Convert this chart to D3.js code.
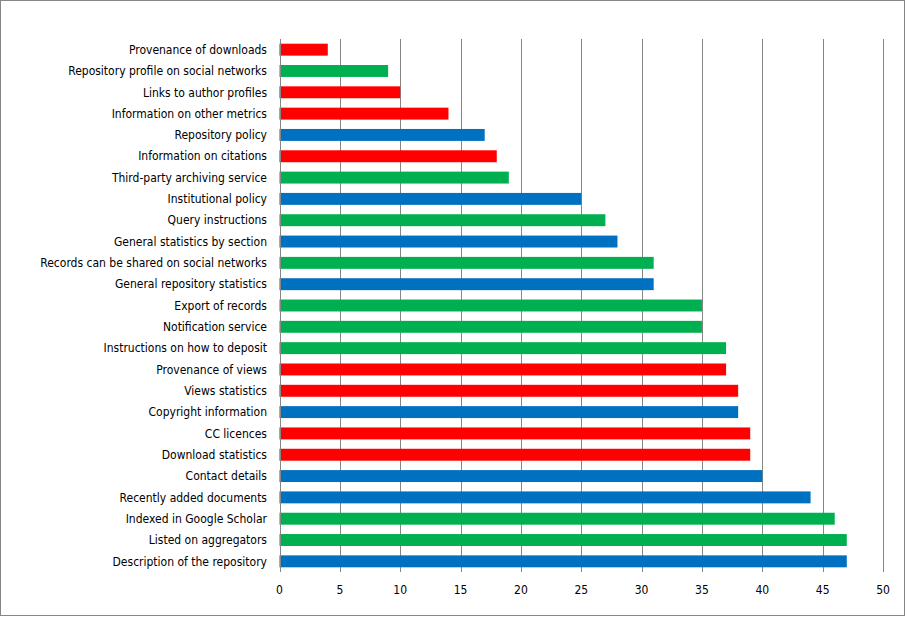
<!DOCTYPE html>
<html>
<head>
<meta charset="utf-8">
<script src="https://cdn.jsdelivr.net/npm/d3@7"></script>
<style>
  body { margin: 0; background: #fff; }
  svg { display: block; }
  .lbl { font-family: "DejaVu Sans Condensed", "DejaVu Sans", sans-serif; font-size: 12px; fill: #000; }
</style>
</head>
<body>
<svg id="chart"></svg>
<script>
// rows listed top to bottom as they appear in the chart
const features = [
  "Provenance of downloads",
  "Repository profile on social networks",
  "Links to author profiles",
  "Information on other metrics",
  "Repository policy",
  "Information on citations",
  "Third-party archiving service",
  "Institutional policy",
  "Query instructions",
  "General statistics by section",
  "Records can be shared on social networks",
  "General repository statistics",
  "Export of records",
  "Notification service",
  "Instructions on how to deposit",
  "Provenance of views",
  "Views statistics",
  "Copyright information",
  "CC licences",
  "Download statistics",
  "Contact details",
  "Recently added documents",
  "Indexed in Google Scholar",
  "Listed on aggregators",
  "Description of the repository"
];
const counts = [4, 9, 10, 14, 17, 18, 19, 25, 27, 28, 31, 31, 35, 35, 37, 37, 38, 38, 39, 39, 40, 44, 46, 47, 47];
const groups = ["r", "g", "r", "r", "b", "r", "g", "b", "g", "b", "g", "b", "g", "g", "g", "r", "r", "b", "r", "r", "b", "b", "g", "g", "b"];
const xTicks = [0, 5, 10, 15, 20, 25, 30, 35, 40, 45, 50];

const groupColor = { r: "#ff0000", g: "#00b050", b: "#0070c0" };

const W = 909, H = 621;
const margin = { top: 39, right: 26, bottom: 49, left: 279.5 };

const svg = d3.select("#chart").attr("width", W).attr("height", H);

// outer chart border
svg.append("rect")
  .attr("x", 0.5).attr("y", 0.5)
  .attr("width", 904).attr("height", 615)
  .attr("fill", "#fff").attr("stroke", "#868686");

const x = d3.scaleLinear().domain([0, 50]).range([margin.left, 883]);
const y = d3.scaleBand().domain(features).range([margin.top, H - margin.bottom]).paddingInner(0.44).paddingOuter(0.22);

// vertical grid lines
svg.append("g")
  .selectAll("line")
  .data(xTicks.slice(1))
  .join("line")
  .attr("x1", d => Math.round(x(d)) + 0.5)
  .attr("x2", d => Math.round(x(d)) + 0.5)
  .attr("y1", margin.top)
  .attr("y2", H - margin.bottom)
  .attr("stroke", "#868686");

// bars
svg.append("g")
  .selectAll("rect")
  .data(features)
  .join("rect")
  .attr("x", x(0))
  .attr("y", d => y(d))
  .attr("width", (d, i) => x(counts[i]) - x(0))
  .attr("height", y.bandwidth())
  .attr("fill", (d, i) => groupColor[groups[i]]);

// y axis line + labels
svg.append("line")
  .attr("x1", Math.round(x(0)) + 0.5).attr("x2", Math.round(x(0)) + 0.5)
  .attr("y1", margin.top).attr("y2", H - margin.bottom)
  .attr("stroke", "#868686");

svg.append("g")
  .selectAll("text")
  .data(features)
  .join("text")
  .attr("class", "lbl")
  .attr("x", 267)
  .attr("y", d => y(d) + y.bandwidth() / 2)
  .attr("dy", "0.35em")
  .attr("text-anchor", "end")
  .text(d => d);

// x tick labels
svg.append("g")
  .selectAll("text")
  .data(xTicks)
  .join("text")
  .attr("class", "lbl")
  .attr("x", d => x(d))
  .attr("y", 590)
  .attr("dy", "0.35em")
  .attr("text-anchor", "middle")
  .text(d => d);
</script>
</body>
</html>
